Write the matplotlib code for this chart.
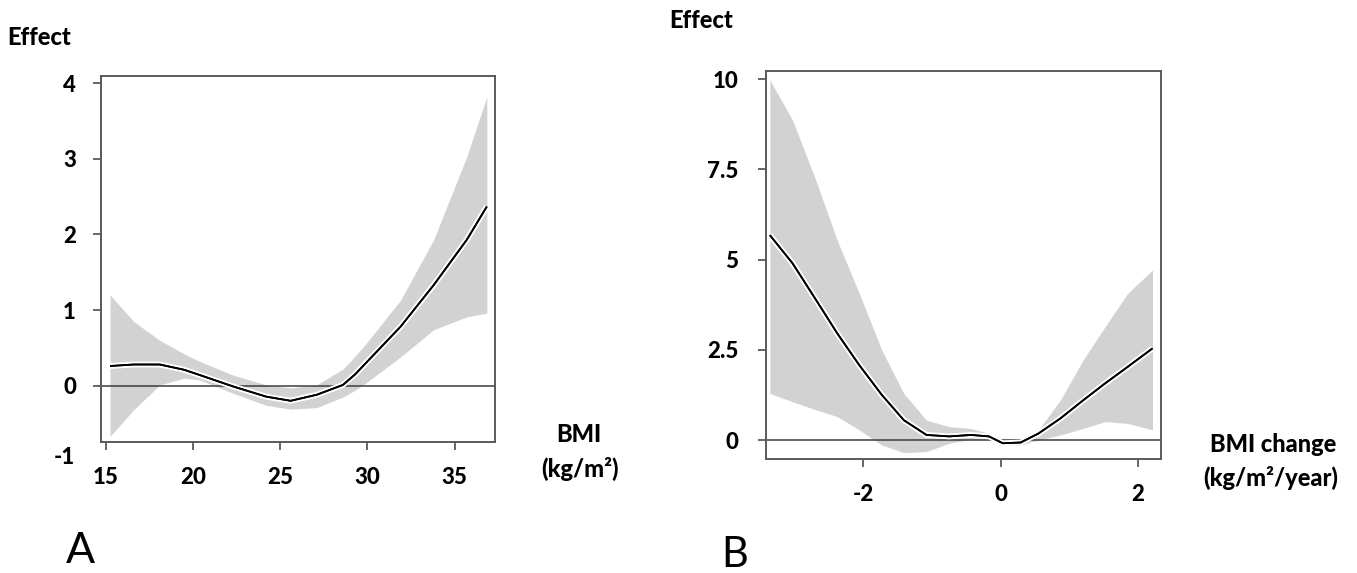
import matplotlib
matplotlib.use("Agg")
import matplotlib.pyplot as plt
import matplotlib.patheffects as pe
from matplotlib import font_manager

plt.rcParams['font.family'] = ['Lato', 'DejaVu Sans']
plt.rcParams['font.weight'] = 900
plt.rcParams['axes.unicode_minus'] = False

# Panel A: effect of BMI
bmi_x = [15.25, 16.6, 18.1, 19.5, 20.4, 22.3, 24.2, 25.6, 27.1, 28.6, 29.3, 30.0, 31.9, 33.8, 35.7, 36.85]
bmi_mean = [0.26, 0.28, 0.28, 0.21, 0.14, -0.01, -0.145, -0.2, -0.12, 0.01, 0.15, 0.32, 0.78, 1.33, 1.93, 2.37]
bmi_upper = [1.2, 0.85, 0.6, 0.42, 0.32, 0.14, 0.01, -0.03, 0.01, 0.22, 0.39, 0.58, 1.13, 1.93, 3.03, 3.82]
bmi_lower = [-0.67, -0.32, 0.01, 0.1, 0.075, -0.1, -0.26, -0.31, -0.29, -0.15, -0.06, 0.05, 0.38, 0.74, 0.91, 0.96]
bmi_xticks = [15, 20, 25, 30, 35]
bmi_yticks = [0, 1, 2, 3, 4]

# Panel B: effect of yearly BMI change
chg_x = [-3.36, -3.03, -2.71, -2.38, -2.06, -1.73, -1.41, -1.08, -0.75, -0.43, -0.17, 0.03, 0.29, 0.55, 0.87, 1.2, 1.52, 1.85, 2.21]
chg_mean = [5.68, 4.9, 3.95, 2.96, 2.08, 1.25, 0.55, 0.14, 0.1, 0.14, 0.1, -0.09, -0.07, 0.18, 0.6, 1.1, 1.57, 2.03, 2.54]
chg_upper = [9.98, 8.87, 7.3, 5.54, 4.07, 2.49, 1.29, 0.55, 0.37, 0.32, 0.18, 0.0, -0.02, 0.28, 1.11, 2.22, 3.14, 4.07, 4.71]
chg_lower = [1.29, 1.06, 0.85, 0.65, 0.28, -0.14, -0.35, -0.32, -0.09, 0.02, 0.02, -0.14, -0.14, 0.0, 0.14, 0.32, 0.51, 0.46, 0.28]
chg_xticks = [-2, 0, 2]
chg_yticks = [0, 2.5, 5, 7.5, 10]
chg_yticklabels = ['0', '2.5', '5', '7.5', '10']

W, H = 1357, 573
fig = plt.figure(figsize=(W / 100, H / 100), dpi=100)
fig.patch.set_facecolor('white')

BAND = '#d2d2d2'
FRAME = '#5a5a5a'
BOLD = 900


def px_axes(left, right, top, bottom):
    return fig.add_axes([left / W, 1 - bottom / H, (right - left) / W, (bottom - top) / H])


def px_text(x, y, s, **kw):
    fig.text(x / W, 1 - y / H, s, **kw)


def draw_panel(ax, x, mean, lower, upper):
    ax.fill_between(x, lower, upper, color=BAND, lw=0, zorder=1)
    ax.axhline(0, color='#3c3c3c', lw=1.1, zorder=2)
    ax.plot(x, mean, color='black', lw=1.3, zorder=3, solid_capstyle='butt',
            solid_joinstyle='round',
            path_effects=[pe.withStroke(linewidth=4.2, foreground='white'), pe.Normal()])
    for sp in ax.spines.values():
        sp.set_color(FRAME)
        sp.set_linewidth(1.4)
    ax.tick_params(axis='both', which='major', length=6, width=1.3, color=FRAME,
                   labelsize=16, labelcolor='black')


# ---- Panel A ----
axA = px_axes(101, 494.7, 75.7, 442)
draw_panel(axA, bmi_x, bmi_mean, bmi_lower, bmi_upper)
axA.set_xlim(14.73, 37.3)
axA.set_ylim(-0.745, 4.10)
axA.set_xticks(bmi_xticks)
axA.set_yticks(bmi_yticks)
axA.tick_params(axis='y', pad=12)
axA.tick_params(axis='x', pad=12)
px_text(75, 457, '-1', ha='right', va='center', fontsize=16, fontweight=BOLD)

px_text(7, 45, 'Effect', ha='left', va='baseline', fontsize=17, fontweight=BOLD)
px_text(579, 442, 'BMI', ha='center', va='baseline', fontsize=17, fontweight=BOLD)
px_text(580, 477, '(kg/m\u00b2)', ha='center', va='baseline', fontsize=17, fontweight=BOLD)
px_text(66, 563, 'A', ha='left', va='baseline', fontsize=31, fontweight='normal')

# ---- Panel B ----
axB = px_axes(766, 1161.3, 71, 459.3)
draw_panel(axB, chg_x, chg_mean, chg_lower, chg_upper)
axB.set_xlim(-3.416, 2.338)
axB.set_ylim(-0.535, 10.23)
axB.set_xticks(chg_xticks)
axB.set_yticks(chg_yticks)
axB.set_yticklabels(chg_yticklabels)
axB.tick_params(axis='y', pad=14)
axB.tick_params(axis='x', pad=12)

px_text(669, 28, 'Effect', ha='left', va='baseline', fontsize=17, fontweight=BOLD)
px_text(1273, 452, 'BMI change', ha='center', va='baseline', fontsize=17, fontweight=BOLD)
px_text(1271, 486, '(kg/m\u00b2/year)', ha='center', va='baseline', fontsize=17, fontweight=BOLD)
px_text(721, 567, 'B', ha='left', va='baseline', fontsize=30, fontweight='normal')

fig.savefig('out.png', dpi=100, facecolor='white')
